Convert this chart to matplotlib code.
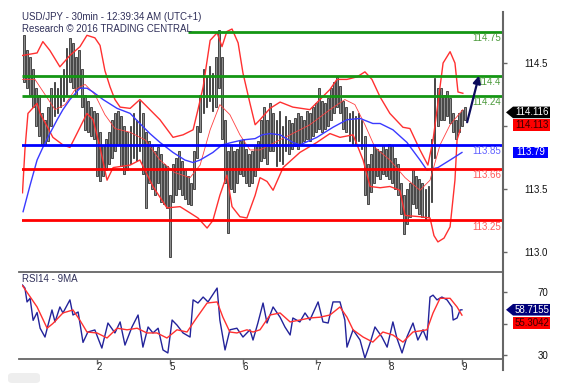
import matplotlib
matplotlib.use("Agg")
import matplotlib.pyplot as plt
from matplotlib.patches import Polygon, FancyBboxPatch
from matplotlib.lines import Line2D
import numpy as np

plt.rcParams["font.family"] = ["Liberation Sans", "DejaVu Sans"]

# -----------------------------
# Data (hours since start, 1h bars)
# -----------------------------
highs = [
    114.72, 114.60, 114.55, 114.45, 114.30, 114.25, 114.10, 114.05, 114.15, 114.30, 114.35, 114.30,
    114.40, 114.45, 114.62, 114.70, 114.66, 114.55, 114.60, 114.45, 114.25, 114.20, 114.15, 114.12,
    114.10, 113.95, 113.85, 113.90, 113.95, 114.05, 114.10, 114.12, 114.08, 114.00, 113.95, 114.00,
    114.10, 114.05, 114.20, 114.10, 113.95, 113.88, 113.85, 113.80, 113.83, 113.78, 113.70, 113.68,
    113.45, 113.70, 113.75, 113.80, 113.72, 113.65, 113.60, 113.55, 113.80, 114.00, 114.25, 114.45,
    114.40, 114.48, 114.42, 114.55, 114.76, 114.55, 114.05, 113.80, 113.85, 113.80, 113.82, 113.88,
    113.90, 113.82, 113.78, 113.80, 113.85, 113.88, 114.05, 114.15, 114.05, 114.18, 114.10, 114.05,
    114.12, 114.00, 114.08, 114.05, 114.02, 114.06, 114.10, 114.08, 114.05, 114.12, 114.10, 114.15,
    114.18, 114.30, 114.20, 114.18, 114.22, 114.30, 114.35, 114.39, 114.32, 114.20, 114.15, 114.10,
    114.12, 114.08, 114.10, 114.05, 113.92, 113.70, 113.78, 113.85, 113.82, 113.80, 113.85, 113.82,
    113.86, 113.85, 113.75, 113.70, 113.55, 113.45, 113.50, 113.55, 113.65, 113.60, 113.58, 113.55,
    113.50, 113.52, 113.90, 114.38, 114.30, 114.30, 114.25, 114.28, 114.22, 114.10, 114.05, 114.10,
    114.13, 114.15,
]
lows = [
    114.35, 114.30, 114.25, 114.15, 114.00, 113.92, 113.86, 113.85, 113.88, 114.00, 114.08, 114.10,
    114.15, 114.20, 114.25, 114.35, 114.30, 114.25, 114.30, 114.15, 113.97, 113.95, 113.92, 113.90,
    113.60, 113.56, 113.60, 113.65, 113.70, 113.75, 113.80, 113.85, 113.68, 113.62, 113.65, 113.70,
    113.75, 113.72, 113.80, 113.62, 113.35, 113.55, 113.50, 113.45, 113.55, 113.40, 113.38, 113.35,
    112.96, 113.40, 113.45, 113.50, 113.45, 113.42, 113.38, 113.37, 113.50, 113.75, 113.95, 114.10,
    114.15, 114.20, 114.12, 114.15, 114.30, 113.90, 113.55, 113.15, 113.50, 113.48, 113.55, 113.62,
    113.60, 113.55, 113.52, 113.55, 113.60, 113.65, 113.72, 113.75, 113.70, 113.80, 113.80, 113.68,
    113.72, 113.70, 113.80, 113.78, 113.82, 113.84, 113.82, 113.85, 113.88, 113.90, 113.88, 113.92,
    113.95, 113.98, 113.95, 113.98, 114.00, 114.05, 114.10, 114.15, 114.10, 113.98, 113.95, 113.88,
    113.86, 113.85, 113.88, 113.82, 113.45, 113.38, 113.48, 113.55, 113.60, 113.58, 113.62, 113.60,
    113.58, 113.55, 113.50, 113.45, 113.30, 113.14, 113.22, 113.28, 113.38, 113.35, 113.30, 113.28,
    113.25, 113.28, 113.40, 113.75, 114.00, 114.05, 114.05, 114.08, 114.02, 113.95, 113.90, 113.95,
    114.00, 114.05,
]
bar_hours = np.arange(len(highs))

# Bollinger bands (upper / middle / lower)
upper_h = [-0.5, 4.3, 6.2, 8.5, 11.8, 15.1, 18.4, 20.7, 23.3, 25.0, 26.6, 28.3, 29.9, 31.6, 34.9,
           38.1, 41.4, 44.7, 49.0, 52.3, 55.6, 57.2, 58.9, 61.2, 63.5, 65.1, 66.7, 68.4, 70.4, 72.0,
           74.3, 76.0, 77.6, 80.9, 84.2, 88.4, 94.0, 97.3, 100.6, 102.9, 106.2, 109.5, 112.1, 114.4,
           117.1, 120.3, 124.6, 126.9, 130.2, 132.8, 134.5, 136.1, 137.8, 140.1, 141.7, 142.7, 144.3]
upper_p = [114.56, 114.58, 114.67, 114.60, 114.47, 114.56, 114.63, 114.72, 114.70, 114.64, 114.44,
           114.31, 114.21, 114.15, 114.14, 114.21, 114.13, 114.05, 113.91, 113.93, 113.97, 114.13,
           114.31, 114.68, 114.74, 114.63, 114.75, 114.77, 114.66, 114.42, 114.18, 114.01, 114.05,
           114.14, 114.19, 114.15, 114.13, 114.21, 114.29, 114.37, 114.37, 114.39, 114.43, 114.37,
           114.23, 114.10, 113.99, 113.98, 113.81, 113.69, 113.89, 114.18, 114.50, 114.59, 114.50,
           114.27, 114.26]
middle_h = [-0.5, 3.6, 6.9, 10.2, 13.5, 16.8, 20.1, 23.3, 26.6, 29.9, 34.9, 39.8, 44.7, 49.6, 54.6,
            57.9, 61.2, 64.4, 67.7, 71.0, 74.3, 77.6, 82.5, 87.5, 94.0, 100.6, 105.5, 108.8, 112.1,
            115.4, 120.3, 125.3, 130.2, 133.5, 136.8, 140.1, 144.3]
middle_p = [114.37, 114.37, 114.25, 114.13, 114.17, 114.29, 114.33, 114.25, 114.09, 113.98, 113.95,
            113.89, 113.73, 113.63, 113.59, 113.69, 113.97, 114.17, 114.09, 113.93, 113.81, 113.81,
            113.87, 113.93, 114.01, 114.13, 114.21, 114.17, 114.01, 113.83, 113.73, 113.59, 113.49,
            113.57, 113.85, 114.01, 114.13]
lower_h = [-0.5, 0.3, 1.3, 4.3, 5.3, 9.5, 12.8, 15.1, 17.4, 20.7, 22.7, 25.0, 27.3, 29.3, 34.9, 38.1,
           42.4, 47.0, 51.3, 54.6, 57.2, 60.2, 62.1, 64.4, 66.7, 68.4, 71.0, 73.3, 76.0, 77.6, 79.9,
           81.9, 85.2, 90.7, 96.3, 100.6, 103.9, 108.2, 111.5, 113.8, 117.1, 120.3, 123.6, 125.3,
           130.2, 133.5, 134.8, 136.1, 138.1, 140.1, 141.7, 142.4, 143.4]
lower_p = [113.47, 113.81, 114.10, 114.18, 114.10, 113.91, 113.85, 113.83, 113.94, 114.10, 114.05,
           113.83, 113.57, 113.67, 113.69, 113.73, 113.52, 113.35, 113.36, 113.31, 113.27, 113.19,
           113.25, 113.45, 113.61, 113.36, 113.28, 113.27, 113.45, 113.59, 113.56, 113.49, 113.67,
           113.79, 113.87, 113.94, 113.91, 113.93, 113.73, 113.52, 113.51, 113.52, 113.49, 113.29,
           113.28, 113.27, 113.13, 113.08, 113.11, 113.20, 113.57, 113.89, 113.97]

# Blue moving average
ma_h = [-0.3, 2.0, 4.3, 6.2, 8.5, 10.9, 12.8, 15.1, 18.4, 20.7, 22.7, 26.0, 30.6, 34.9, 38.1, 41.4,
        44.7, 49.0, 52.9, 55.6, 57.9, 62.1, 65.1, 68.4, 72.0, 76.0, 78.3, 80.9, 84.2, 88.4, 90.7,
        96.3, 101.6, 106.2, 110.5, 114.7, 117.1, 121.3, 125.9, 130.2, 132.5, 136.1, 140.1, 144.0]
ma_p = [113.32, 113.53, 113.73, 113.83, 113.94, 114.05, 114.13, 114.21, 114.30, 114.30, 114.27,
        114.21, 114.14, 114.10, 114.02, 113.94, 113.87, 113.79, 113.73, 113.71, 113.73, 113.79,
        113.85, 113.87, 113.89, 113.90, 113.93, 113.94, 113.93, 113.87, 113.85, 113.91, 113.99,
        114.05, 114.06, 114.02, 114.02, 113.97, 113.87, 113.73, 113.65, 113.67, 113.73, 113.79]

# Support / resistance levels
green_levels = [114.75, 114.40, 114.24]
green_labels = ["114.75", "114.4", "114.24"]
green_starts = [53.9, -0.7, -0.7]
blue_level = 113.85
red_levels = [113.66, 113.25]

arrow_from = (145.7, 114.03)
arrow_to = (149.6, 114.40)

last_price = 114.116
last_price2 = 114.113
last_ma = 113.79

# RSI panel
rsi_h = [-0.5, 0.3, 1.0, 2.0, 3.0, 4.3, 5.3, 6.9, 7.9, 9.2, 10.2, 11.8, 12.8, 15.1, 16.1, 17.8, 19.4,
         21.0, 23.3, 25.6, 27.6, 29.9, 31.6, 33.2, 35.5, 37.5, 39.1, 40.8, 42.4, 44.1, 45.7, 47.3,
         48.7, 50.3, 52.3, 54.6, 55.6, 57.2, 58.9, 60.5, 63.5, 64.4, 66.1, 67.7, 70.0, 72.0, 74.3,
         75.3, 76.9, 78.6, 79.9, 81.9, 84.2, 85.8, 87.5, 88.4, 90.7, 92.4, 94.0, 96.7, 98.3, 100.0,
         101.6, 103.9, 105.5, 106.2, 108.2, 110.5, 112.1, 113.8, 115.4, 117.7, 119.4, 121.3, 122.6,
         124.3, 125.9, 127.9, 129.5, 131.2, 132.5, 133.5, 134.5, 135.8, 137.4, 139.1, 140.7, 141.1,
         142.4, 143.4, 144.0]
rsi_v = [74.4, 72.5, 63.7, 66.0, 52.0, 57.0, 47.0, 41.4, 49.0, 58.6, 51.0, 60.5, 56.7, 65.0, 55.4,
         57.3, 38.0, 44.6, 45.9, 34.4, 50.3, 44.0, 51.0, 36.3, 47.8, 55.4, 35.0, 47.8, 44.0, 47.0,
         33.2, 31.3, 52.2, 49.0, 44.0, 41.4, 65.0, 63.0, 66.8, 63.7, 72.5, 52.2, 33.2, 46.0, 47.0,
         41.4, 46.0, 39.5, 50.3, 63.0, 50.3, 60.5, 54.0, 47.8, 42.7, 53.5, 51.0, 56.7, 52.2, 63.7,
         51.0, 50.3, 63.7, 63.7, 52.2, 35.0, 46.0, 39.5, 28.0, 37.6, 47.8, 41.4, 35.0, 51.0, 40.8,
         31.3, 41.4, 50.3, 39.5, 46.0, 39.5, 66.8, 68.0, 65.0, 66.8, 65.0, 60.5, 52.2, 53.5, 58.6,
         58.7]
rsi_ma_h = [-0.5, 2.0, 4.3, 7.6, 9.5, 12.8, 16.1, 18.4, 20.7, 24.0, 27.3, 30.6, 33.9, 37.2, 40.4,
            43.7, 47.0, 50.3, 53.6, 56.9, 60.2, 63.5, 65.4, 67.7, 70.0, 73.3, 75.3, 77.6, 80.9,
            84.2, 87.5, 90.7, 94.0, 97.3, 100.6, 103.9, 106.2, 108.2, 111.5, 114.7, 118.0, 121.3,
            124.6, 127.9, 132.5, 134.5, 136.8, 140.1, 142.4, 144.0]
rsi_ma_v = [74.0, 67.0, 60.5, 47.0, 50.0, 56.7, 58.6, 52.0, 44.6, 44.0, 40.8, 47.0, 46.0, 47.0,
            44.0, 44.0, 40.8, 46.0, 44.6, 54.0, 63.0, 63.7, 54.0, 44.6, 44.0, 46.0, 44.6, 46.0,
            55.4, 56.7, 51.0, 52.2, 53.5, 54.0, 55.4, 60.5, 54.0, 46.0, 41.4, 38.2, 44.6, 42.7,
            38.2, 44.6, 46.0, 56.7, 66.0, 66.0, 60.5, 55.3]
rsi_last = 58.7155
rsi_ma_last = 55.3042

day_ticks = [24, 48, 72, 96, 120, 144]
day_labels = ["2", "5", "6", "7", "8", "9"]

# -----------------------------
# Layout (pixel based)
# -----------------------------
W, H = 579, 390
fig = plt.figure(figsize=(W / 100, H / 100), dpi=100)


def fx(px):
    return px / W


def fy(py):
    return 1 - py / H


ax = fig.add_axes([fx(22), fy(270), fx(503) - fx(22), fy(12) - fy(270)])
ax2 = fig.add_axes([fx(22), fy(359), fx(503) - fx(22), fy(272) - fy(359)])

for a in (ax, ax2):
    a.set_xlim(-0.66, 157.5)
    for s in a.spines.values():
        s.set_visible(False)
    a.yaxis.tick_right()

ax.set_ylim(112.857, 114.905)
ax2.set_ylim(27.46, 82.7)

# price bars
highs_a = np.array(highs)
lows_a = np.array(lows)
ax.bar(bar_hours, highs_a - lows_a, bottom=lows_a, width=0.6, color="#8e8e8e",
       edgecolor="#151515", linewidth=0.5, zorder=3)

# bands + MA
ax.plot(upper_h, upper_p, color="#ff3030", lw=1.0, zorder=3.5)
ax.plot(lower_h, lower_p, color="#ff3030", lw=1.0, zorder=3.5)
ax.plot(middle_h, middle_p, color="#ff4040", lw=0.6, zorder=3.5)
ax.plot(ma_h, ma_p, color="#3a3aff", lw=1.0, zorder=3.5)

# levels
for lv, st in zip(green_levels, green_starts):
    ax.plot([st, 157.5], [lv, lv], color="#139613", lw=2, zorder=4, solid_capstyle="butt")
ax.axhline(blue_level, color="#0000ff", lw=2, zorder=4)
for lv in red_levels:
    ax.axhline(lv, color="#ff0000", lw=2, zorder=4)

level_labels = [(v, t, "#4c9a3c") for v, t in zip(green_levels, green_labels)]
level_labels.append((blue_level, "%.2f" % blue_level, "#6060ff"))
level_labels += [(v, "%.2f" % v, "#ff5a5a") for v in red_levels]
for v, txt, c in level_labels:
    ax.annotate(txt, xy=(1, v), xycoords=ax.get_yaxis_transform(), xytext=(-2, -6.5),
                textcoords="offset pixels", ha="right", va="center", fontsize=7, color=c,
                zorder=6, annotation_clip=False)

ax.annotate("", xy=arrow_to, xytext=arrow_from,
            arrowprops=dict(arrowstyle="-|>", color="#0b0b5c", lw=1.6, mutation_scale=11,
                            shrinkA=0, shrinkB=0), zorder=6)

# RSI
ax2.plot(rsi_h, rsi_v, color="#23239a", lw=1.0, zorder=3)
ax2.plot(rsi_ma_h, rsi_ma_v, color="#ff3030", lw=1.0, zorder=3)

# ticks (labels hidden behind the value tags are left blank)
ax.set_xticks([])
ax.set_yticks([113.0, 113.5, 114.0, 114.5])
ax.set_yticklabels(["113.0", "113.5", "", "114.5"])
ax2.set_yticks([30, 50, 70])
ax2.set_yticklabels(["30", "", "70"])
for a in (ax, ax2):
    a.tick_params(axis="y", length=3, width=1, color="#666666", labelsize=7, pad=29.5,
                  labelcolor="#111111")
    for t in a.get_yticklabels():
        t.set_ha("right")
ax2.set_xticks(day_ticks)
ax2.set_xticklabels(day_labels)
ax2.tick_params(axis="x", length=3.8, width=1, color="#666666", labelsize=7, pad=-2,
                labelcolor="#222222")
for t in ax2.get_xticklabels():
    t.set_ha("left")

# frame lines
fig.lines.append(Line2D([fx(503), fx(503)], [fy(12), fy(370)], transform=fig.transFigure,
                        color="#666666", lw=1.5))
for yy in (272, 359):
    fig.lines.append(Line2D([fx(19), fx(503)], [fy(yy), fy(yy)], transform=fig.transFigure,
                            color="#666666", lw=1.3))

# texts
fig.text(fx(22), fy(17), "USD/JPY - 30min - 12:39:34 AM (UTC+1)", fontsize=7, color="#30305a",
         va="center", ha="left")
fig.text(fx(22), fy(29), "Research \u00a9 2016 TRADING CENTRAL", fontsize=7, color="#30305a",
         va="center", ha="left")
fig.text(fx(22), fy(279), "RSI14 - 9MA", fontsize=7, color="#30305a", va="center", ha="left")


def add_tag(a, value, label, face, tcol, shift_px=0, pointer=False, x1=550):
    ydisp = a.transData.transform((0, value))[1] - shift_px
    yc = ydisp / fig.bbox.height
    hh = 5.8 / H
    x0 = fx(513)
    xe = fx(x1)
    pts = [(x0, yc - hh), (xe, yc - hh), (xe, yc + hh), (x0, yc + hh)]
    if pointer:
        pts = [(fx(506), yc)] + pts
    fig.patches.append(Polygon(pts, closed=True, transform=fig.transFigure, facecolor=face,
                               edgecolor="none", zorder=5))
    fig.text((x0 + xe) / 2 + 0.001, yc, label, color=tcol, fontsize=7, ha="center",
             va="center", zorder=6)


add_tag(ax, last_price, "%.3f" % last_price, "#000000", "#ffffff", shift_px=1, pointer=True)
add_tag(ax, last_price2, "%.3f" % last_price2, "#ff0000", "#3a0000", shift_px=13.5)
add_tag(ax, last_ma, "%.2f" % last_ma, "#0000ff", "#ffffff", x1=548)
add_tag(ax2, rsi_last, "%.4f" % rsi_last, "#00007a", "#ffffff", pointer=True)
add_tag(ax2, rsi_ma_last, "%.4f" % rsi_ma_last, "#ff0000", "#3a0000", shift_px=8)

fig.patches.append(FancyBboxPatch((fx(8), fy(383)), fx(40) - fx(8), 10 / H,
                                  boxstyle="round,pad=0,rounding_size=0.008",
                                  transform=fig.transFigure, fc="#eeeeee", ec="none"))

fig.savefig("out.png", dpi=100)
